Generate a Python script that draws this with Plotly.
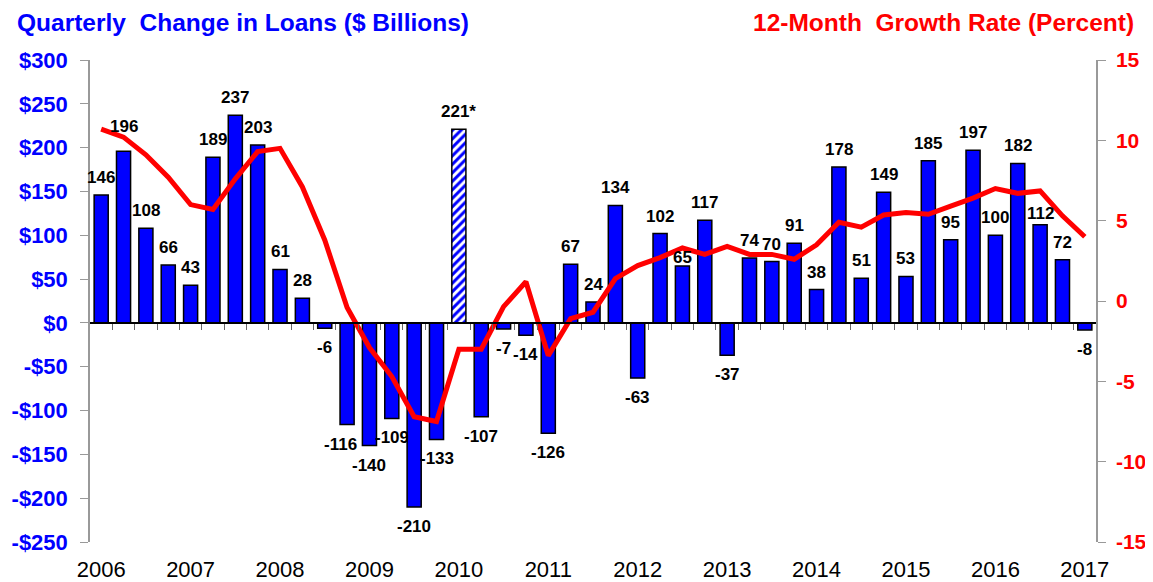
import plotly.graph_objects as go

# ---------------- data ----------------
years = ["2006", "2007", "2008", "2009", "2010", "2011", "2012",
         "2013", "2014", "2015", "2016", "2017"]
quarterly_change = [146, 196, 108, 66, 43, 189, 237, 203, 61, 28, -6, -116,
                    -140, -109, -210, -133, 221, -107, -7, -14, -126, 67, 24,
                    134, -63, 102, 65, 117, -37, 74, 70, 91, 38, 178, 51, 149,
                    53, 185, 95, 197, 100, 182, 112, 72, -8]
bar_labels = [str(v) for v in quarterly_change]
bar_labels[16] = "221*"
hatched_index = 16
growth_rate = [10.7, 10.2, 9.1, 7.7, 6.0, 5.7, 7.6, 9.3, 9.5, 7.1, 3.8, -0.4,
               -2.9, -4.7, -7.2, -7.5, -3.0, -3.0, -0.35, 1.2, -3.4, -1.1,
               -0.7, 1.4, 2.2, 2.7, 3.3, 2.9, 3.4, 2.9, 2.9, 2.6, 3.5, 4.9,
               4.6, 5.35, 5.5, 5.4, 5.9, 6.4, 7.0, 6.7, 6.85, 5.3, 4.0]
left_ticks = [300, 250, 200, 150, 100, 50, 0, -50, -100, -150, -200, -250]
right_ticks = [15, 10, 5, 0, -5, -10, -15]

# ---------------- styling ----------------
BLUE = "#0000FF"
RED = "#FF0000"
FONT = "Liberation Sans, Arial, sans-serif"
left_range = [-250, 300]
right_range = [-15, 15]
n = len(quarterly_change)
xs = list(range(n))
# manual label nudges (index: (xshift, extra yshift))
nudges = {1: (0, 7), 11: (-7, 0), 26: (0, -9), 42: (0, -6)}

solid_y = [v if i != hatched_index else None for i, v in enumerate(quarterly_change)]
hatched_y = [v if i == hatched_index else None for i, v in enumerate(quarterly_change)]

fig = go.Figure()
fig.add_trace(go.Bar(
    x=xs, y=solid_y, width=0.63,
    marker=dict(color=BLUE, line=dict(color="black", width=1.5)),
    xaxis="x", yaxis="y", showlegend=False, hoverinfo="skip"))
fig.add_trace(go.Bar(
    x=xs, y=hatched_y, width=0.63,
    marker=dict(color="white", line=dict(color="black", width=1.5),
                pattern=dict(shape="/", fgcolor=BLUE, bgcolor="white",
                             fgopacity=1, size=6, solidity=0.5)),
    xaxis="x", yaxis="y", showlegend=False, hoverinfo="skip"))
fig.add_trace(go.Scatter(
    x=xs, y=growth_rate, mode="lines",
    line=dict(color=RED, width=5),
    xaxis="x", yaxis="y2", showlegend=False, hoverinfo="skip"))
# helper invisible trace to realise the zero-line category axis
fig.add_trace(go.Scatter(x=[0], y=[0], mode="markers", marker=dict(opacity=0),
                         xaxis="x2", yaxis="y", showlegend=False,
                         hoverinfo="skip"))

annotations = []
for i, (v, lab) in enumerate(zip(quarterly_change, bar_labels)):
    dx, dy = nudges.get(i, (0, 0))
    if v >= 0:
        annotations.append(dict(x=i, y=v, xref="x", yref="y", text=lab,
                                showarrow=False, yanchor="bottom",
                                yshift=6 + dy, xshift=dx,
                                font=dict(family=FONT, size=17, color="black",
                                          weight="bold")))
    else:
        annotations.append(dict(x=i, y=v, xref="x", yref="y", text=lab,
                                showarrow=False, yanchor="top",
                                yshift=-8 + dy, xshift=dx,
                                font=dict(family=FONT, size=17, color="black",
                                          weight="bold")))

annotations.append(dict(xref="paper", yref="paper", x=0, y=1, xanchor="left",
                        yanchor="middle", xshift=-75, yshift=38,
                        text="Quarterly\u00a0 Change in Loans ($ Billions)",
                        showarrow=False,
                        font=dict(family=FONT, size=24.5, color=BLUE,
                                  weight="bold")))
annotations.append(dict(xref="paper", yref="paper", x=1, y=1, xanchor="right",
                        yanchor="middle", xshift=40, yshift=38,
                        text="12-Month\u00a0 Growth Rate (Percent)",
                        showarrow=False,
                        font=dict(family=FONT, size=24.5, color=RED,
                                  weight="bold")))

zero_pos = (0 - left_range[0]) / (left_range[1] - left_range[0])

# page body adds an 8px margin, so the figure is 8px smaller on each axis
fig.update_layout(
    width=1145, height=574,
    margin=dict(l=82, r=57, t=52, b=40, autoexpand=False),
    paper_bgcolor="white", plot_bgcolor="white",
    barmode="overlay",
    xaxis=dict(range=[-0.5, n - 0.5], tickmode="array",
               tickvals=[4 * k for k in range(len(years))], ticktext=years,
               showgrid=False, zeroline=False, showline=False,
               automargin=False,
               ticks="outside", ticklen=8, tickcolor="rgba(0,0,0,0)",
               tickfont=dict(family=FONT, size=22, color="black")),
    xaxis2=dict(range=[-0.5, n - 0.5], overlaying="x", anchor="free",
                position=zero_pos, showgrid=False, zeroline=False,
                showline=True, linecolor="black", linewidth=1.5,
                automargin=False,
                tickmode="array", tickvals=[k + 0.5 for k in range(n - 1)],
                ticks="outside", ticklen=6, tickcolor="#666666",
                showticklabels=False),
    yaxis=dict(range=left_range, tickmode="array", tickvals=left_ticks,
               ticktext=[("-$" if t < 0 else "$") + str(abs(t))
                         for t in left_ticks],
               showgrid=False, zeroline=False, showline=True,
               automargin=False,
               linecolor="#999999", linewidth=1.5, ticks="outside",
               ticklen=8, tickcolor="#999999", ticklabelstandoff=8,
               tickfont=dict(family=FONT, size=22, color=BLUE,
                             weight="bold")),
    yaxis2=dict(range=right_range, overlaying="y", side="right",
                tickmode="array", tickvals=right_ticks,
                ticktext=[str(t) for t in right_ticks],
                showgrid=False, zeroline=False, showline=True,
                automargin=False,
                linecolor="#999999", linewidth=1.5, ticks="outside",
                ticklen=8, tickcolor="#999999", ticklabelstandoff=6,
                tickfont=dict(family=FONT, size=21, color=RED,
                              weight="bold")),
    annotations=annotations,
)

fig.write_html("out.html")
